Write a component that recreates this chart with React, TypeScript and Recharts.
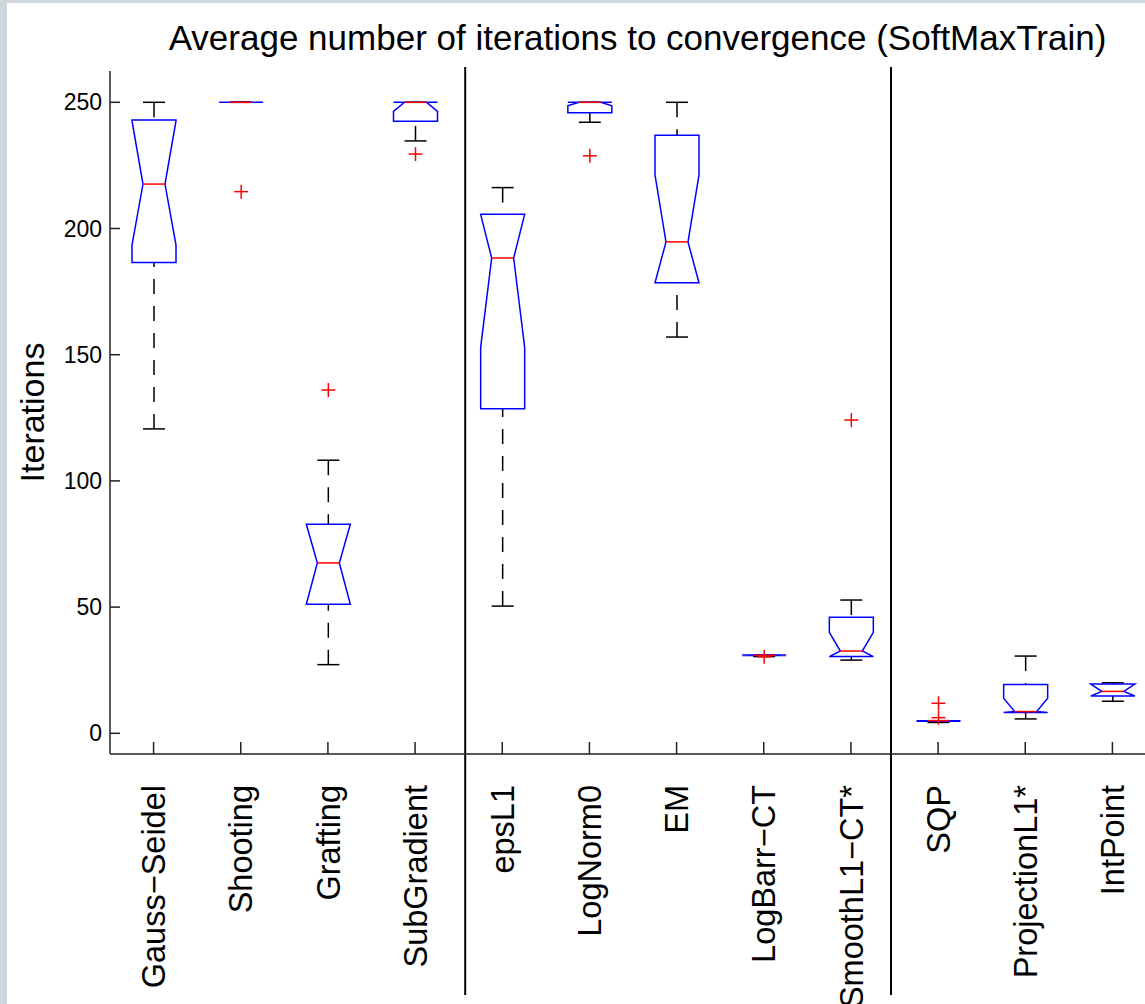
import React from "react";
import { Bar, ComposedChart, Label, ReferenceLine, XAxis, YAxis } from "recharts";

const FONT = "'Liberation Sans', Arial, Helvetica, sans-serif";

const title = "Average number of iterations to convergence (SoftMaxTrain)";
const methods = [
  "Gauss−Seidel",
  "Shooting",
  "Grafting",
  "SubGradient",
  "epsL1",
  "LogNorm0",
  "EM",
  "LogBarr−CT",
  "SmoothL1−CT*",
  "SQP",
  "ProjectionL1*",
  "IntPoint",
];

// box statistics
const whiskerLow = [120.6, 250, 27.2, 234.7, 50.4, 242.1, 157.0, 30.4, 29.0, 4.3, 5.7, 12.7];
const quartile1 = [186.5, 250, 51.1, 242.5, 128.6, 245.9, 178.5, 30.8, 30.4, 4.8, 8.2, 14.8];
const medians = [217.6, 250, 67.5, 250, 188.3, 250, 194.7, 30.9, 32.6, 5.0, 8.6, 16.6];
const quartile3 = [243.0, 250, 82.8, 250, 205.6, 250, 236.9, 31.0, 46.0, 5.0, 19.3, 19.5];
const whiskerHigh = [250, 250, 108.2, 250, 216.2, 250, 250, 31.0, 52.8, 5.0, 30.6, 20.0];
const notchLow = [193.4, 250, 50.5, 246.4, 152.9, 248.6, 168.2, 30.8, 25.2, 4.7, 3.3, 13.5];
const notchHigh = [242.6, 250, 84.5, 253.6, 223.7, 251.4, 221.2, 31.0, 40.0, 5.3, 13.9, 19.7];
const outliers: number[][] = [[], [214.6], [136.0], [229.5], [], [228.8], [], [30.3], [124.1], [11.9, 6.2], [], []];

const yTicks = [0, 50, 100, 150, 200, 250];
const yDomain = [-8.2, 262.4];
const groupBreaks = [4.575, 9.46];

const rows = methods.map((name, i) => {
  const all = [whiskerLow[i], whiskerHigh[i], notchLow[i], notchHigh[i], ...outliers[i]];
  return {
    name,
    pos: i + 1,
    lo: whiskerLow[i],
    q1: quartile1[i],
    med: medians[i],
    q3: quartile3[i],
    hi: whiskerHigh[i],
    nLo: notchLow[i],
    nHi: notchHigh[i],
    out: outliers[i],
    // the bar spans the full value range of the row; the shape maps values through it
    range: [Math.min(...all), Math.max(...all)],
  };
});

function BoxShape(props: any) {
  const { x, y, width, height, payload } = props;
  if (!payload) return null;
  const [r0, r1] = payload.range;
  const py = (v: number) => y + ((r1 - v) / (r1 - r0)) * height;
  const cx = x + width / 2;
  const L = x;
  const R = x + width;
  const q = width / 4;
  const { lo, q1, med, q3, hi } = payload;
  const nHi = Math.min(payload.nHi, q3);
  const nLo = Math.max(payload.nLo, q1);
  const pts = [
    [L, py(q3)],
    [L, py(nHi)],
    [cx - q, py(med)],
    [L, py(nLo)],
    [L, py(q1)],
    [R, py(q1)],
    [R, py(nLo)],
    [cx + q, py(med)],
    [R, py(nHi)],
    [R, py(q3)],
  ];
  const d = "M" + pts.map((p) => `${p[0]},${p[1]}`).join(" L") + " Z";
  return (
    <g>
      {hi > q3 && (
        <line x1={cx} y1={py(hi)} x2={cx} y2={py(q3)} stroke="#000" strokeWidth={1.5} strokeDasharray="15 12" />
      )}
      {lo < q1 && (
        <line x1={cx} y1={py(lo)} x2={cx} y2={py(q1)} stroke="#000" strokeWidth={1.5} strokeDasharray="15 12" />
      )}
      <line x1={cx - q} y1={py(hi)} x2={cx + q} y2={py(hi)} stroke="#000" strokeWidth={1.5} />
      <line x1={cx - q} y1={py(lo)} x2={cx + q} y2={py(lo)} stroke="#000" strokeWidth={1.5} />
      <path d={d} fill="none" stroke="#0000ff" strokeWidth={1.5} />
      <line x1={cx - q} y1={py(med)} x2={cx + q} y2={py(med)} stroke="#ff0000" strokeWidth={1.5} />
      {payload.out.map((v: number, k: number) => (
        <g key={k} stroke="#ff0000" strokeWidth={1.5}>
          <line x1={cx - 7} y1={py(v)} x2={cx + 7} y2={py(v)} />
          <line x1={cx} y1={py(v) - 7} x2={cx} y2={py(v) + 7} />
        </g>
      ))}
    </g>
  );
}

function MethodTick(props: any) {
  const { x, y, payload } = props;
  return (
    <text
      x={0}
      y={0}
      transform={`translate(${x},${y}) rotate(-90)`}
      textAnchor="end"
      dy="0.36em"
      fontSize={32.5}
      fontFamily={FONT}
      fill="#000"
    >
      {payload.value}
    </text>
  );
}

const NoTick = () => <g />;

function YTitle(props: any) {
  const { viewBox } = props;
  const cx = viewBox.x + 32;
  const cy = viewBox.y + viewBox.height / 2;
  return (
    <text
      x={cx}
      y={cy}
      transform={`rotate(-90 ${cx} ${cy})`}
      textAnchor="middle"
      dominantBaseline="central"
      fontSize={34}
      fontFamily={FONT}
      fill="#000"
    >
      Iterations
    </text>
  );
}

export default function App() {
  return (
    <div
      style={{
        position: "absolute",
        left: 0,
        top: 0,
        width: 1145,
        height: 1004,
        overflow: "hidden",
        background: "#cdd7dc",
      }}
    >
      <div style={{ position: "absolute", left: 7, top: 3, right: 0, bottom: 0, background: "#fff" }} />
      <svg width={1145} height={70} style={{ position: "absolute", left: 0, top: 0 }}>
        <text x={637.5} y={50} textAnchor="middle" fontSize={35} fontFamily={FONT} fill="#000">
          {title}
        </text>
      </svg>
      <div style={{ position: "absolute", left: 0, top: 0 }}>
        <ComposedChart width={1200} height={1004} data={rows} margin={{ top: 71, right: 44, bottom: 0, left: 0 }}>
          <XAxis
            xAxisId="cat"
            dataKey="name"
            type="category"
            interval={0}
            height={250}
            tickSize={-12}
            tickMargin={43}
            tick={<MethodTick />}
            axisLine={{ stroke: "#222", strokeWidth: 1.5 }}
            tickLine={{ stroke: "#222", strokeWidth: 1.5 }}
          />
          <XAxis
            xAxisId="top"
            orientation="top"
            dataKey="name"
            type="category"
            interval={0}
            height={0}
            tickSize={-12}
            tick={<NoTick />}
            axisLine={{ stroke: "#222", strokeWidth: 1.5 }}
            tickLine={{ stroke: "#222", strokeWidth: 1.5 }}
          />
          <XAxis xAxisId="num" dataKey="pos" type="number" domain={[0.5, 12.5]} allowDataOverflow hide />
          <YAxis
            yAxisId="y"
            width={110}
            domain={yDomain}
            ticks={yTicks}
            allowDataOverflow
            tickSize={-10}
            tickMargin={18}
            tick={{ fontSize: 23, fontFamily: FONT, fill: "#000" }}
            axisLine={{ stroke: "#222", strokeWidth: 1.5 }}
            tickLine={{ stroke: "#222", strokeWidth: 1.5 }}
          >
            <Label content={<YTitle />} />
          </YAxis>
          {groupBreaks.map((b) => (
            <ReferenceLine
              key={b}
              xAxisId="num"
              yAxisId="y"
              ifOverflow="visible"
              segment={[
                { x: b, y: 264 },
                { x: b, y: -103.7 },
              ]}
              stroke="#000"
              strokeWidth={2}
            />
          ))}
          <Bar
            xAxisId="cat"
            yAxisId="y"
            dataKey="range"
            barSize={44}
            shape={BoxShape}
            isAnimationActive={false}
          />
        </ComposedChart>
      </div>
    </div>
  );
}
